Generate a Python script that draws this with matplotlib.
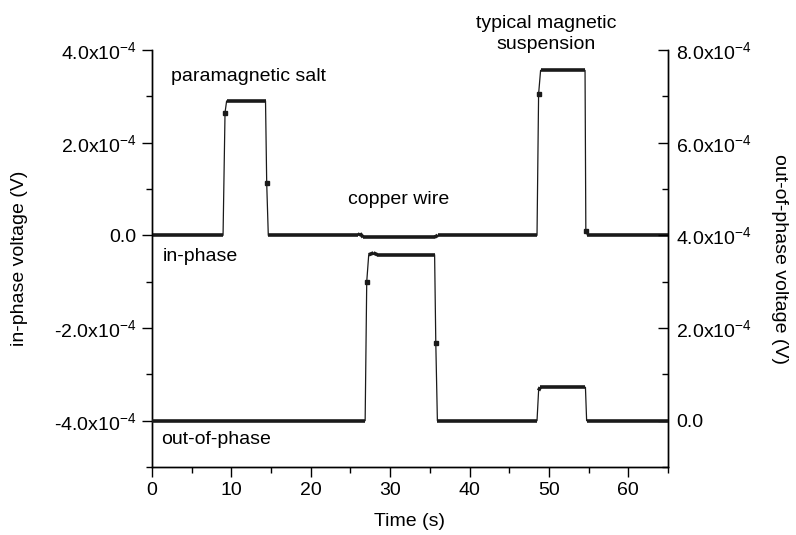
import matplotlib
matplotlib.use("Agg")
import matplotlib.pyplot as plt
import numpy as np

plt.rcParams['font.family'] = ['Liberation Sans', 'DejaVu Sans']
plt.rcParams['mathtext.fontset'] = 'custom'
plt.rcParams['mathtext.rm'] = 'Liberation Sans'
plt.rcParams['mathtext.default'] = 'regular'

SCALE = 1e-4

# in-phase signal (units of 1e-4 V), left axis
t_in = [0, 8.95, 9.2, 9.4, 14.3, 14.45, 14.65, 26.0, 26.2, 26.6, 35.6, 36.0,
        48.5, 48.7, 48.95, 54.55, 54.65, 54.85, 65.0]
v_in = [0, 0, 2.65, 2.9, 2.9, 1.12, 0, 0, 0.04, -0.04, -0.04, 0,
        0, 3.05, 3.56, 3.56, 0.1, 0, 0]

# out-of-phase signal (units of 1e-4 V), right axis
t_out = [0, 26.85, 27.05, 27.3, 27.9, 28.4, 35.6, 35.75, 35.95,
         48.5, 48.7, 48.9, 54.6, 54.75, 65.0]
v_out = [0, 0, 3.0, 3.58, 3.62, 3.58, 3.58, 1.67, 0,
         0, 0.65, 0.72, 0.72, 0, 0]

left_ticks = [-4, -2, 0, 2, 4]
left_labels = ['-4.0x10$^{-4}$', '-2.0x10$^{-4}$', '0.0', '2.0x10$^{-4}$', '4.0x10$^{-4}$']
right_ticks = [0, 2, 4, 6, 8]
right_labels = ['0.0', '2.0x10$^{-4}$', '4.0x10$^{-4}$', '6.0x10$^{-4}$', '8.0x10$^{-4}$']
x_ticks = [0, 10, 20, 30, 40, 50, 60]

fig = plt.figure(figsize=(7.96, 5.35), dpi=100)
ax = fig.add_axes([152/796, 1-467/535, (668-152)/796, (467-50)/535])
ax2 = ax.twinx()

col = '#1a1a1a'
FS = 14

def draw(a, t, v):
    t = np.asarray(t); v = np.asarray(v) * SCALE
    a.plot(t, v, color=col, lw=0.9, zorder=2)
    flat = np.abs(np.diff(v)) < 0.1 * SCALE
    for i in range(len(t) - 1):
        if flat[i]:
            a.plot(t[i:i+2], v[i:i+2], color=col, lw=2.6, solid_capstyle='butt', zorder=3)
    mk = [i for i in range(1, len(t) - 1) if not flat[i-1] and not flat[i]]
    a.plot(t[mk], v[mk], ls='none', marker='s', ms=3, color=col, zorder=4)

draw(ax, t_in, v_in)
draw(ax2, t_out, v_out)

ax.set_xlim(0, 65)
ax.set_ylim(-5e-4, 4e-4)
ax2.set_ylim(-1e-4, 8e-4)

ax.set_xticks(x_ticks)
ax.set_xticks(np.arange(5, 66, 10), minor=True)
ax.set_yticks([v * SCALE for v in left_ticks])
ax.set_yticklabels(left_labels)
ax.set_yticks([v * SCALE for v in [-5, -3, -1, 1, 3]], minor=True)
ax2.set_yticks([v * SCALE for v in right_ticks])
ax2.set_yticklabels(right_labels)
ax2.set_yticks([v * SCALE for v in [-1, 1, 3, 5, 7]], minor=True)

for a in (ax, ax2):
    a.spines['top'].set_visible(False)
    for s in a.spines.values():
        s.set_linewidth(1.0)

ax.tick_params(axis='both', which='major', direction='out', length=7, width=1.0, labelsize=FS, pad=4)
ax.tick_params(axis='both', which='minor', direction='out', length=4, width=1.0)
ax2.tick_params(axis='y', which='major', direction='in', length=7, width=1.0, labelsize=FS, pad=6)
ax2.tick_params(axis='y', which='minor', direction='in', length=4, width=1.0)

ax.set_xlabel('Time (s)', fontsize=FS, labelpad=10)
ax.set_ylabel('in-phase voltage (V)', fontsize=FS, labelpad=19)
ax2.set_ylabel('out-of-phase voltage (V)', fontsize=FS, rotation=270, labelpad=26)

ax.text(12.1, 3.43e-4, 'paramagnetic salt', fontsize=FS, ha='center', va='center')
ax.text(31.1, 0.78e-4, 'copper wire', fontsize=FS, ha='center', va='center')
ax.text(49.6, 4.35e-4, 'typical magnetic\nsuspension', fontsize=FS, ha='center', va='center',
        linespacing=1.35, clip_on=False)
ax.text(1.3, -0.45e-4, 'in-phase', fontsize=FS, ha='left', va='center')
ax.text(1.2, -4.4e-4, 'out-of-phase', fontsize=FS, ha='left', va='center')

fig.savefig('out.png', dpi=100)
